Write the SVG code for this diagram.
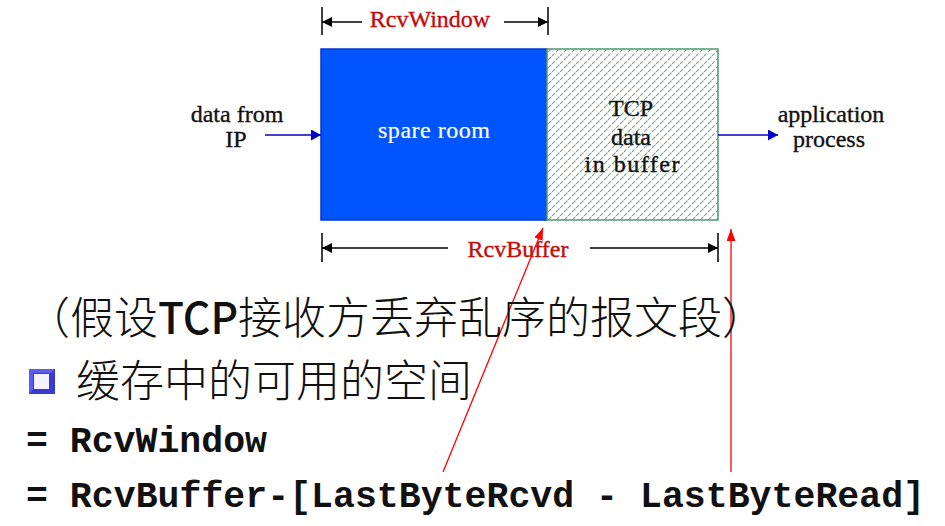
<svg xmlns="http://www.w3.org/2000/svg" width="945" height="526" viewBox="0 0 945 526">
<style>
.serif{font-family:"Liberation Serif","Times New Roman",serif;font-size:24px;fill:#111;stroke:#111;stroke-width:0.35px;}
.red{fill:#c40a0a;stroke:#c40a0a;}
.white{fill:#fff;stroke:#fff;stroke-width:0.2px;}
.cjk{font-family:"Noto Sans CJK SC","Noto Sans",sans-serif;font-size:44px;font-weight:300;fill:#111;}
.mono{font-family:"Liberation Mono","Courier New",monospace;font-size:36.5px;font-weight:bold;fill:#111;}
.dim{stroke:#000;stroke-width:1.5;fill:none;}
.tick{stroke:#000;stroke-width:1.5;}
.blueln{stroke:#0000cc;stroke-width:1.5;fill:none;}
.redln{stroke:#ff0000;stroke-width:1.3;fill:none;}
</style>
<defs>
<marker id="ah-black" markerUnits="userSpaceOnUse" markerWidth="11" markerHeight="10" refX="10" refY="5" orient="auto">
<path d="M0,0 L10,5 L0,10 z" fill="#000"/>
</marker>
<marker id="ah-blue" markerUnits="userSpaceOnUse" markerWidth="12" markerHeight="12" refX="10" refY="5.5" orient="auto">
<path d="M0,0 L10,5.5 L0,11 z" fill="#0000cc"/>
</marker>
<marker id="ah-red" markerUnits="userSpaceOnUse" markerWidth="14" markerHeight="12" refX="12" refY="4.5" orient="auto">
<path d="M0,0 L12,4.5 L0,9 z" fill="#ff0000"/>
</marker>
<pattern id="hatch" patternUnits="userSpaceOnUse" width="8" height="8">
<path d="M-1,9 L9,-1" stroke="#6fa486" stroke-width="1.1" stroke-dasharray="5 2"/>
</pattern>
</defs>

<g id="spare-room">
<rect x="321" y="49" width="226" height="171" fill="#0055ff" stroke="#0036d0" stroke-width="1.5"/>
<text class="serif white" x="434" y="138" text-anchor="middle" font-size="21" textLength="112" lengthAdjust="spacing">spare room</text>
</g>

<g id="tcp-buffer">
<rect x="547" y="49" width="171" height="171" fill="#fff"/>
<rect x="547" y="49" width="171" height="171" fill="url(#hatch)" stroke="#4f9a72" stroke-width="1.5"/>
<text class="serif" x="631" y="116" text-anchor="middle">TCP</text>
<text class="serif" x="631" y="145" text-anchor="middle">data</text>
<text class="serif" x="632" y="172" text-anchor="middle" textLength="95" lengthAdjust="spacing">in buffer</text>
</g>

<g id="data-from-ip">
<text class="serif" x="237" y="122" text-anchor="middle">data from</text>
<text class="serif" x="236" y="147" text-anchor="middle">IP</text>
</g>

<g id="application-process">
<text class="serif" x="831" y="122" text-anchor="middle">application</text>
<text class="serif" x="829" y="147" text-anchor="middle">process</text>
</g>

<g id="rcvwindow-label">
<text class="serif red" x="430" y="27" text-anchor="middle">RcvWindow</text>
</g>

<g id="rcvbuffer-label">
<text class="serif red" x="518" y="257" text-anchor="middle">RcvBuffer</text>
</g>

<g id="connectors">
<line class="tick" x1="322" y1="7" x2="322" y2="35"/>
<line class="tick" x1="548" y1="7" x2="548" y2="35"/>
<line class="dim" x1="362" y1="22" x2="322" y2="22" marker-end="url(#ah-black)"/>
<line class="dim" x1="504" y1="22" x2="548" y2="22" marker-end="url(#ah-black)"/>

<line class="tick" x1="322" y1="233" x2="322" y2="262"/>
<line class="tick" x1="718" y1="233" x2="718" y2="262"/>
<line class="dim" x1="448" y1="248" x2="322" y2="248" marker-end="url(#ah-black)"/>
<line class="dim" x1="590" y1="248" x2="718" y2="248" marker-end="url(#ah-black)"/>

<line class="blueln" x1="265" y1="135" x2="321" y2="135" marker-end="url(#ah-blue)"/>
<line class="blueln" x1="718" y1="135" x2="778" y2="135" marker-end="url(#ah-blue)"/>

<line class="redln" x1="443" y1="472" x2="543" y2="228" marker-end="url(#ah-red)"/>
<line class="redln" x1="731" y1="472" x2="731" y2="229" marker-end="url(#ah-red)"/>
</g>

<g id="assumption-text">
<text class="cjk" x="26" y="334">（假设</text>
<text class="cjk" x="158" y="334" textLength="80" lengthAdjust="spacingAndGlyphs" style="font-weight:500">TCP</text>
<text class="cjk" x="238" y="334">接收方丢弃乱序的报文段）</text>
</g>

<g id="bullet-item">
<rect x="29" y="369" width="26" height="25" fill="#3a3ad0"/>
<path d="M29,369 L55,369 L51,373 L33,373 L33,390 L29,394 z" fill="#5c5cf0"/>
<rect x="34" y="374" width="15" height="15" fill="#f4f2ff"/>
<text class="cjk" x="76" y="397">缓存中的可用的空间</text>
</g>

<g id="formula">
<text class="mono" x="26" y="452">= RcvWindow</text>
<text class="mono" x="26" y="507" textLength="899" lengthAdjust="spacing">= RcvBuffer-[LastByteRcvd - LastByteRead]</text>
</g>
</svg>
